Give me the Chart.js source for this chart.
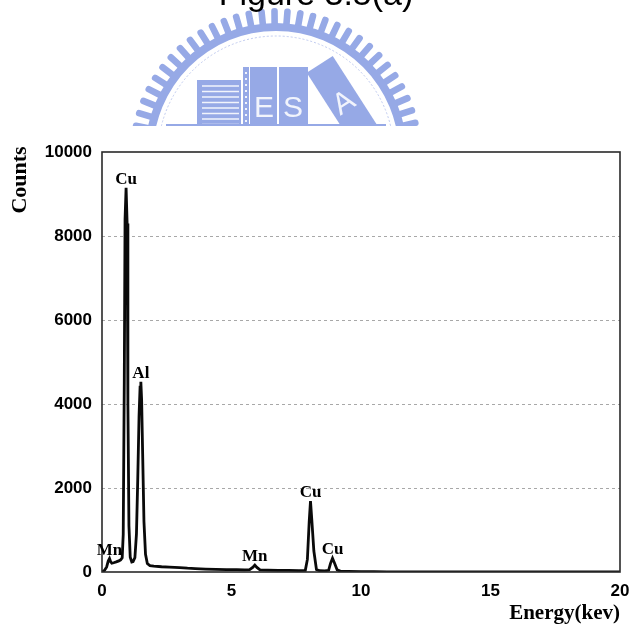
<!DOCTYPE html>
<html>
<head>
<meta charset="utf-8">
<title>EDS spectrum</title>
<script src="https://cdn.jsdelivr.net/npm/chart.js@4.4.1/dist/chart.umd.min.js"></script>
<style>
  html, body { margin: 0; padding: 0; background: #ffffff; }
  #wrap { position: relative; width: 633px; height: 630px; }
</style>
</head>
<body>
<div id="wrap"><canvas id="c" width="633" height="630"></canvas></div>
<script>
// EDS spectrum: energy (keV) against counts
const energy = [0.00, 0.10, 0.18, 0.24, 0.29, 0.33, 0.38, 0.45, 0.55, 0.65, 0.72, 0.78, 0.82, 0.86, 0.89, 0.93, 0.97, 1.00, 1.04, 1.09,
  1.15, 1.20, 1.27, 1.33, 1.38, 1.43, 1.47, 1.50, 1.53, 1.57, 1.62, 1.68, 1.75, 1.85, 2.0, 2.3, 2.6, 3.0, 3.3, 3.6,
  4.0, 4.4, 4.8, 5.2, 5.5, 5.7, 5.82, 5.9, 5.98, 6.1, 6.4, 6.8, 7.2, 7.6, 7.85, 7.93, 8.0, 8.05, 8.1, 8.18,
  8.28, 8.4, 8.6, 8.75, 8.82, 8.9, 8.98, 9.08, 9.2, 9.5, 10.0, 10.5, 11.0, 12, 14, 16, 18, 20];
const counts = [0, 40, 120, 260, 320, 250, 210, 220, 240, 265, 290, 340, 900, 4500, 8400, 9150, 8300, 4000, 1100, 350,
  240, 250, 340, 900, 2200, 3700, 4400, 4530, 4100, 2800, 1200, 420, 200, 150, 140, 125, 115, 105, 90, 80,
  70, 62, 58, 55, 50, 55, 110, 165, 110, 50, 45, 40, 38, 35, 40, 300, 1200, 1690, 1250, 500,
  60, 30, 28, 40, 200, 326, 210, 50, 20, 15, 10, 8, 5, 3, 2, 2, 1, 0];

// element labels placed over their peaks
const peakNames = ['Mn', 'Cu', 'Al', 'Mn', 'Cu', 'Cu'];
const peakEnergy = [0.29, 0.93, 1.50, 5.90, 8.05, 8.90];
const peakCounts = [320, 9150, 4530, 165, 1690, 326];

const xTicks = [0, 5, 10, 15, 20];
const yTicks = [0, 2000, 4000, 6000, 8000, 10000];

const figureTitle = 'Figure 3.5(a)';
const xTitle = 'Energy(kev)';
const yTitle = 'Counts';

const PLOT = { left: 102, right: 620, top: 152, bottom: 572 };
const W = 633, H = 630;

// faint emblem behind the caption
function drawEmblem(ctx) {
  const cx = 276, cy = 154, R = 146;
  const blue = '#96a9e6';
  const pale = '#f1f4fc';
  ctx.save();
  ctx.beginPath();
  ctx.rect(0, 0, W, 126);
  ctx.clip();

  // teeth
  ctx.fillStyle = blue;
  for (let a = 181; a <= 360; a += 5.2) {
    const t = a * Math.PI / 180;
    ctx.save();
    ctx.translate(cx, cy);
    ctx.rotate(t);
    ctx.beginPath();
    ctx.roundRect(R - 20, -3.3, 20, 6.6, 3);
    ctx.fill();
    ctx.restore();
  }
  // band
  ctx.beginPath();
  ctx.arc(cx, cy, R - 15, Math.PI, 2 * Math.PI);
  ctx.arc(cx, cy, R - 23, 2 * Math.PI, Math.PI, true);
  ctx.closePath();
  ctx.fill();
  // thin inner ring
  ctx.strokeStyle = '#c0cbf0';
  ctx.lineWidth = 1;
  ctx.setLineDash([2, 2]);
  ctx.beginPath();
  ctx.arc(cx, cy, R - 28, Math.PI, 2 * Math.PI);
  ctx.stroke();
  ctx.setLineDash([]);

  // striped block
  ctx.fillStyle = blue;
  ctx.fillRect(197, 80, 44, 48);
  ctx.strokeStyle = pale;
  ctx.lineWidth = 1.4;
  for (let y = 86; y < 126; y += 5.5) {
    ctx.beginPath();
    ctx.moveTo(202, y);
    ctx.lineTo(239, y);
    ctx.stroke();
  }
  // dotted spine
  ctx.fillRect(243, 67, 6, 61);
  ctx.fillStyle = pale;
  for (let y = 72; y < 126; y += 6) ctx.fillRect(245, y, 2, 2);
  // E and S books
  ctx.fillStyle = blue;
  ctx.fillRect(250, 67, 27, 61);
  ctx.fillRect(279, 67, 29, 61);
  ctx.fillStyle = pale;
  ctx.font = '30px "Liberation Sans", Arial, sans-serif';
  ctx.textAlign = 'center';
  ctx.textBaseline = 'middle';
  ctx.fillText('E', 264, 109);
  ctx.fillText('S', 293, 109);
  // leaning A book
  ctx.save();
  ctx.translate(342, 100);
  ctx.rotate(-Math.PI / 5.5);
  ctx.fillStyle = blue;
  ctx.fillRect(-15, -42, 31, 90);
  ctx.fillStyle = pale;
  ctx.fillText('A', 0, 4);
  ctx.restore();
  // shelf line
  ctx.strokeStyle = blue;
  ctx.lineWidth = 2;
  ctx.beginPath();
  ctx.moveTo(166, 125);
  ctx.lineTo(386, 125);
  ctx.stroke();
  ctx.restore();
}

const decor = {
  id: 'decor',
  beforeDraw(chart) {
    const ctx = chart.ctx;
    ctx.save();
    ctx.fillStyle = '#ffffff';
    ctx.fillRect(0, 0, W, H);
    drawEmblem(ctx);
    // figure caption, partly above the page edge
    ctx.fillStyle = '#000000';
    ctx.font = '34px "Liberation Sans", Arial, sans-serif';
    ctx.textAlign = 'center';
    ctx.textBaseline = 'alphabetic';
    ctx.fillText(figureTitle, 316, 5);
    ctx.restore();
  },
  afterDatasetsDraw(chart) {
    const ctx = chart.ctx;
    const xs = chart.scales.x, ys = chart.scales.y;
    const a = chart.chartArea;
    ctx.save();
    // frame
    ctx.strokeStyle = '#2a2a2a';
    ctx.lineWidth = 1.6;
    ctx.strokeRect(a.left, a.top, a.right - a.left, a.bottom - a.top);
    // peak labels
    ctx.fillStyle = '#000000';
    ctx.font = 'bold 17px "Liberation Serif", "Times New Roman", serif';
    ctx.textAlign = 'center';
    ctx.textBaseline = 'alphabetic';
    peakNames.forEach((n, i) => {
      ctx.fillText(n, xs.getPixelForValue(peakEnergy[i]), ys.getPixelForValue(peakCounts[i]) - 4);
    });
    // axis titles
    ctx.font = 'bold 21px "Liberation Serif", "Times New Roman", serif';
    ctx.textAlign = 'right';
    ctx.fillText(xTitle, a.right, 619);
    ctx.save();
    ctx.translate(26, 180);
    ctx.rotate(-Math.PI / 2);
    ctx.textAlign = 'center';
    ctx.font = 'bold 22px "Liberation Serif", "Times New Roman", serif';
    ctx.fillText(yTitle, 0, 0);
    ctx.restore();
    ctx.restore();
  }
};

const points = energy.map((e, i) => ({ x: e, y: counts[i] }));

new Chart(document.getElementById('c'), {
  type: 'line',
  data: {
    datasets: [{
      data: points,
      borderColor: '#0a0a0a',
      borderWidth: 2.8,
      pointRadius: 0,
      tension: 0,
      fill: false
    }]
  },
  options: {
    responsive: false,
    animation: false,
    events: [],
    layout: { padding: { top: PLOT.top, right: W - PLOT.right, left: 0, bottom: 0 } },
    plugins: { legend: { display: false }, tooltip: { enabled: false }, title: { display: false } },
    scales: {
      x: {
        type: 'linear',
        min: 0,
        max: 20,
        afterBuildTicks(s) { s.ticks = xTicks.map(v => ({ value: v })); },
        afterFit(s) {
          s.height = H - PLOT.bottom;
          s.paddingLeft = 0;
          s.paddingRight = 0;
        },
        grid: { display: false, drawTicks: false },
        border: { display: false },
        ticks: {
          padding: 9,
          color: '#000000',
          maxRotation: 0,
          font: { family: '"Liberation Sans", Arial, sans-serif', size: 17, weight: 'bold' }
        }
      },
      y: {
        type: 'linear',
        min: 0,
        max: 10000,
        afterBuildTicks(s) { s.ticks = yTicks.map(v => ({ value: v })); },
        afterFit(s) {
          s.width = PLOT.left;
          s.paddingTop = 0;
          s.paddingBottom = 0;
        },
        grid: {
          drawTicks: false,
          lineWidth: 1,
          color: ctx => (ctx.tick && (ctx.tick.value === 0 || ctx.tick.value === 10000)) ? 'rgba(0,0,0,0)' : '#a8a8a8'
        },
        border: { display: false, dash: [3, 3] },
        ticks: {
          padding: 10,
          color: '#000000',
          font: { family: '"Liberation Sans", Arial, sans-serif', size: 17, weight: 'bold' },
          callback: v => String(v)
        }
      }
    }
  },
  plugins: [decor]
});
</script>
</body>
</html>
